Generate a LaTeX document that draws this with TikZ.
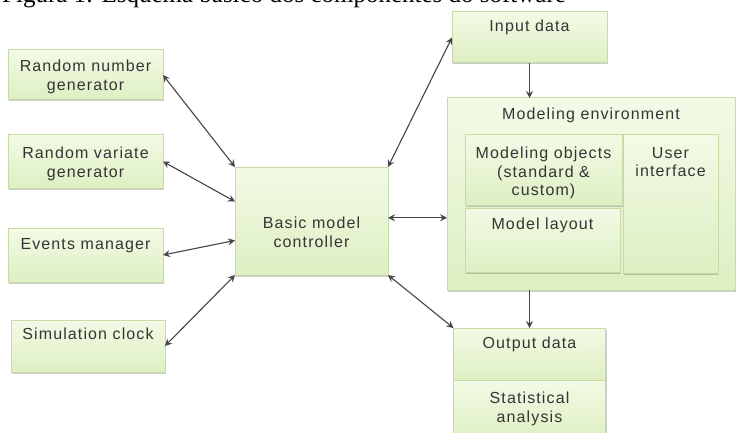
\documentclass[tikz,border=0pt]{standalone}
\usepackage{fontspec}
\setmainfont{Liberation Sans}[LetterSpace=7]
\newfontfamily\capfont{Liberation Serif}
\usetikzlibrary{arrows.meta,shadows,calc}
\definecolor{boxtop}{HTML}{F3FAE6}
\definecolor{boxbot}{HTML}{DDEFC2}
\definecolor{boxline}{HTML}{C6DCA6}
\definecolor{txtcol}{HTML}{353535}
\definecolor{arrcol}{HTML}{454545}
\tikzset{
  box/.style={draw=boxline, line width=1pt, top color=boxtop, bottom color=boxbot,
    anchor=north west, inner sep=0pt, outer sep=0pt,
    drop shadow={shadow xshift=1pt, shadow yshift=-1.5pt, opacity=0.2, fill=black}},
  lbl/.style={anchor=north, align=center, inner sep=0pt, text=txtcol,
    font=\fontsize{16}{18.5}\selectfont},
  link/.style={draw=arrcol, line width=1.1pt, {Stealth[length=7pt,width=7pt,inset=2.5pt]}-{Stealth[length=7pt,width=7pt,inset=2.5pt]}},
  flow/.style={draw=arrcol, line width=1.1pt, -{Stealth[length=7pt,width=7pt,inset=2.5pt]}}
}
\begin{document}
\begin{tikzpicture}[x=1pt,y=-1pt]
\useasboundingbox (0,0) rectangle (736,433);
\fill[white] (0,0) rectangle (736,433);
% caption (cut off at top)
\node[anchor=base west, inner sep=0pt, font=\capfont\fontsize{25}{30}\selectfont] (cap) at (2,2.5) {Figura 1: Esquema básico dos componentes do software};
% left boxes
\node[box, minimum width=155pt, minimum height=50pt] (rng) at (8,50) {};
\node[lbl] (rngT) at (85.5,60) {Random number\\generator};
\node[box, minimum width=155pt, minimum height=53pt] (rvg) at (8,135) {};
\node[lbl] (rvgT) at (85.5,147) {Random variate\\generator};
\node[box, minimum width=155pt, minimum height=54pt] (em) at (8,228) {};
\node[lbl] (emT) at (85.5,238) {Events manager};
\node[box, minimum width=154pt, minimum height=52pt] (sc) at (11,320) {};
\node[lbl] (scT) at (88,328) {Simulation clock};
% controller
\node[box, minimum width=153pt, minimum height=108pt] (bmc) at (235,167) {};
\node[lbl] (bmcT) at (311.5,217) {Basic model\\controller};
% right side
\node[box, minimum width=155pt, minimum height=51pt] (inp) at (452,12) {};
\node[lbl] (inpT) at (529.5,20) {Input data};
\node[box, minimum width=288pt, minimum height=192pt] (env) at (447,98) {};
\node[lbl] (envT) at (591,108) {Modeling environment};
\node[box, minimum width=157pt, minimum height=70pt] (mobj) at (465,135) {};
\node[lbl] (mobjT) at (543.5,147) {Modeling objects\\(standard \&\\custom)};
\node[box, minimum width=155pt, minimum height=64pt] (mlay) at (465,208) {};
\node[lbl] (mlayT) at (542.5,218) {Model layout};
\node[box, minimum width=95pt, minimum height=138pt] (ui) at (623,135) {};
\node[lbl] (uiT) at (670.5,147) {User\\interface};
\node[box, minimum width=152pt, minimum height=52pt] (out) at (453.5,328) {};
\node[lbl] (outT) at (529.5,337) {Output data};
\node[box, minimum width=152pt, minimum height=60pt] (stat) at (453.5,380) {};
\node[lbl] (statT) at (529.5,392) {Statistical\\analysis};
% connectors
\coordinate (rvgIn) at ($(bmc.north west)!0.32!(bmc.south west)$);
\coordinate (emIn) at ($(bmc.north west)!0.68!(bmc.south west)$);
\coordinate (envOut) at ($(bmc.north east)!0.47!(bmc.south east)$);
\draw[link] (rng.east) -- (bmc.north west);
\draw[link] (rvg.east) -- (rvgIn);
\draw[link] (em.east) -- (emIn);
\draw[link] (sc.east) -- (bmc.south west);
\draw[link] (bmc.north east) -- (inp.west);
\draw[link] (envOut) -- (envOut -| env.west);
\draw[link] (bmc.south east) -- (out.north west);
\draw[flow] (inp.south) -- (inp.south |- env.north);
\draw[flow] (env.south -| out.north) -- (out.north);
\end{tikzpicture}
\end{document}
